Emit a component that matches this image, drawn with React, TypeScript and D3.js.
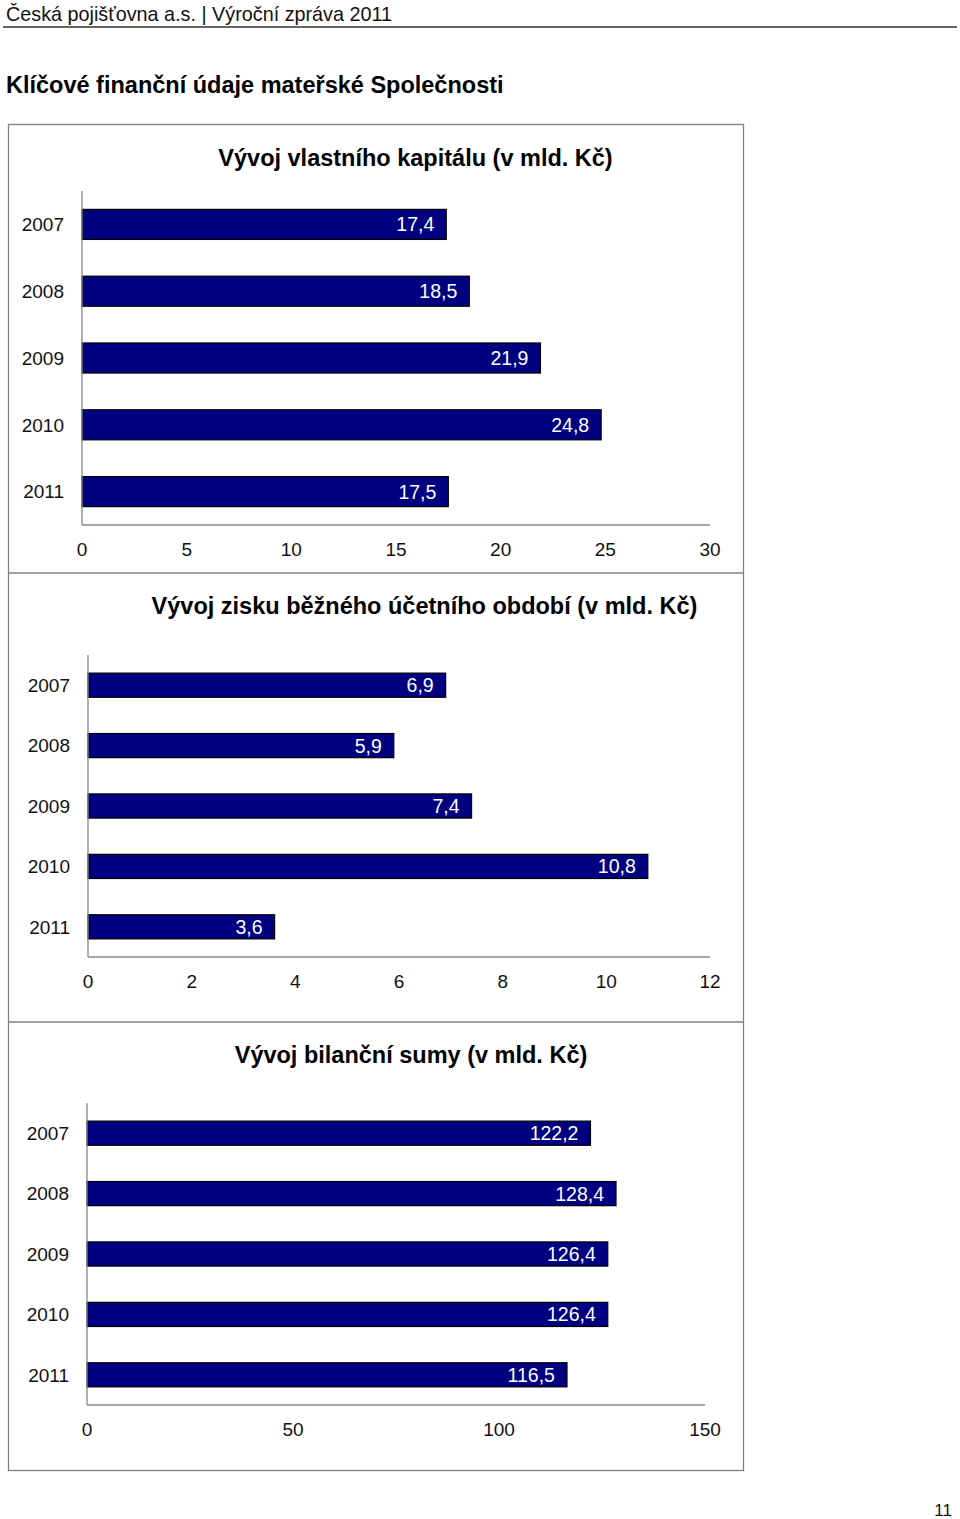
import { useEffect, useRef } from "react";
import * as d3 from "d3";

const years = ["2007", "2008", "2009", "2010", "2011"];
const equity = [17.4, 18.5, 21.9, 24.8, 17.5];
const profit = [6.9, 5.9, 7.4, 10.8, 3.6];
const balance = [122.2, 128.4, 126.4, 126.4, 116.5];

const equityTicks = [0, 5, 10, 15, 20, 25, 30];
const profitTicks = [0, 2, 4, 6, 8, 10, 12];
const balanceTicks = [0, 50, 100, 150];

const font = "'Liberation Sans', Arial, sans-serif";

interface Panel {
  title: string;
  titleX: number;
  titleY: number;
  values: number[];
  ticks: number[];
  x0: number;
  x1: number;
  axisEnd: number;
  yTop: number;
  yBottom: number;
  padding: number;
  labelX: number;
}

function drawPanel(svg: any, p: Panel) {
  const g = svg.append("g");
  const x = d3.scaleLinear().domain([0, p.ticks[p.ticks.length - 1]]).range([p.x0, p.x1]);
  const y = d3.scaleBand().domain(years).range([p.yTop, p.yBottom]).paddingInner(p.padding).paddingOuter(p.padding / 2);

  g.append("text")
    .attr("x", p.titleX).attr("y", p.titleY)
    .attr("text-anchor", "middle")
    .attr("font-family", font).attr("font-size", 23.5).attr("font-weight", "bold")
    .text(p.title);

  g.selectAll("rect.bar")
    .data(p.values)
    .join("rect")
    .attr("class", "bar")
    .attr("x", x(0))
    .attr("y", (d: number, i: number) => y(years[i]))
    .attr("width", (d: number) => x(d) - x(0))
    .attr("height", y.bandwidth())
    .attr("fill", "#000080")
    .attr("stroke", "#000")
    .attr("stroke-width", 1.2);

  g.selectAll("text.val")
    .data(p.values)
    .join("text")
    .attr("class", "val")
    .attr("x", (d: number) => x(d) - 12)
    .attr("y", (d: number, i: number) => y(years[i])! + y.bandwidth() / 2)
    .attr("dy", "0.36em")
    .attr("text-anchor", "end")
    .attr("fill", "#fff")
    .attr("font-family", font).attr("font-size", 19.5)
    .text((d: number) => d3.format(".1f")(d).replace(".", ","));

  g.selectAll("text.year")
    .data(years)
    .join("text")
    .attr("class", "year")
    .attr("x", p.labelX)
    .attr("y", (d: string) => y(d)! + y.bandwidth() / 2)
    .attr("dy", "0.36em")
    .attr("text-anchor", "end")
    .attr("fill", "#111")
    .attr("font-family", font).attr("font-size", 19)
    .text((d: string) => d);

  // axes lines
  g.append("line")
    .attr("x1", p.x0).attr("x2", p.x0)
    .attr("y1", p.yTop).attr("y2", p.yBottom)
    .attr("stroke", "#888").attr("stroke-width", 1.3);
  g.append("line")
    .attr("x1", p.x0).attr("x2", p.axisEnd)
    .attr("y1", p.yBottom).attr("y2", p.yBottom)
    .attr("stroke", "#888").attr("stroke-width", 1.3);

  g.selectAll("text.tick")
    .data(p.ticks)
    .join("text")
    .attr("class", "tick")
    .attr("x", (d: number) => x(d))
    .attr("y", p.yBottom + 24)
    .attr("dy", "0.36em")
    .attr("text-anchor", "middle")
    .attr("fill", "#111")
    .attr("font-family", font).attr("font-size", 19)
    .text((d: number) => String(d));
}

export default function App() {
  const ref = useRef<SVGSVGElement>(null);

  useEffect(() => {
    document.body.style.margin = "0";
    const svg = d3.select(ref.current);
    svg.selectAll("*").remove();

    svg.append("text")
      .attr("x", 6).attr("y", 21)
      .attr("font-family", font).attr("font-size", 19.8)
      .attr("fill", "#111")
      .text("Česká pojišťovna a.s. | Výroční zpráva 2011");
    svg.append("line")
      .attr("x1", 3).attr("x2", 957).attr("y1", 27).attr("y2", 27)
      .attr("stroke", "#333").attr("stroke-width", 1.5);

    svg.append("text")
      .attr("x", 6).attr("y", 93)
      .attr("font-family", font).attr("font-size", 23.5).attr("font-weight", "bold")
      .attr("fill", "#000")
      .text("Klíčové finanční údaje mateřské Společnosti");

    // frame
    svg.append("rect")
      .attr("x", 8.5).attr("y", 124.5).attr("width", 735).attr("height", 1346)
      .attr("fill", "none").attr("stroke", "#808080").attr("stroke-width", 1.3);
    [573, 1022].forEach((yy) => {
      svg.append("line")
        .attr("x1", 8.5).attr("x2", 743.5).attr("y1", yy).attr("y2", yy)
        .attr("stroke", "#808080").attr("stroke-width", 1.3);
    });

    drawPanel(svg, {
      title: "Vývoj vlastního kapitálu (v mld. Kč)",
      titleX: 415.5, titleY: 166,
      values: equity, ticks: equityTicks,
      x0: 82, x1: 710, axisEnd: 710,
      yTop: 191, yBottom: 525, padding: 0.55, labelX: 64,
    });
    drawPanel(svg, {
      title: "Vývoj zisku běžného účetního období (v mld. Kč)",
      titleX: 424.5, titleY: 614,
      values: profit, ticks: profitTicks,
      x0: 88, x1: 710, axisEnd: 710,
      yTop: 655, yBottom: 957, padding: 0.6, labelX: 70,
    });
    drawPanel(svg, {
      title: "Vývoj bilanční sumy (v mld. Kč)",
      titleX: 411, titleY: 1063,
      values: balance, ticks: balanceTicks,
      x0: 87, x1: 705, axisEnd: 705,
      yTop: 1103, yBottom: 1405, padding: 0.6, labelX: 69,
    });

    svg.append("text")
      .attr("x", 952).attr("y", 1516)
      .attr("text-anchor", "end")
      .attr("font-family", font).attr("font-size", 17)
      .attr("fill", "#111")
      .text("11");
  }, []);

  return <svg ref={ref} width={960} height={1519} style={{ display: "block", background: "#fff" }} />;
}
